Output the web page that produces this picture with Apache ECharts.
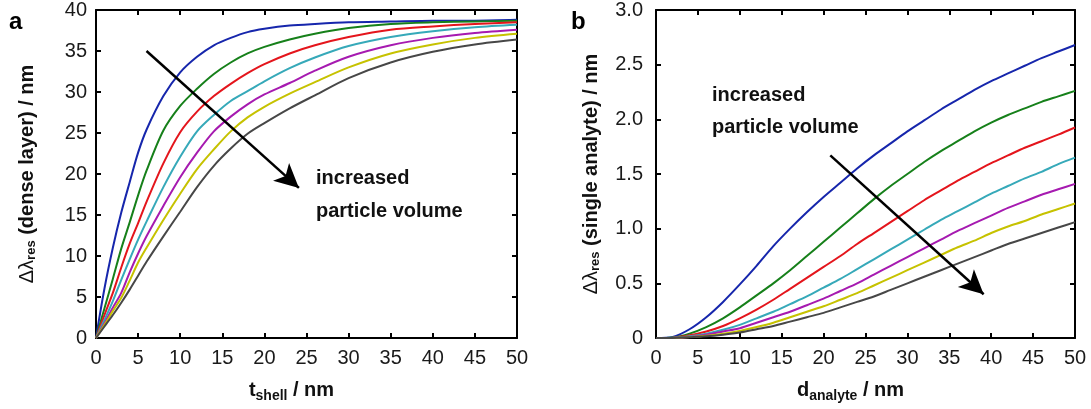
<!DOCTYPE html>
<html>
<head>
<meta charset="utf-8">
<script src="https://cdn.jsdelivr.net/npm/echarts@6/dist/echarts.min.js"></script>
<style>
html,body{margin:0;padding:0;background:#fff;}
#c{width:1091px;height:409px;}
</style>
</head>
<body>
<div id="c"></div>
<script>
// ---------- data ----------
const seriesNames = ['smallest', 'size 2', 'size 3', 'size 4', 'size 5', 'size 6', 'largest'];
const colors = ['#1626ac', '#16801a', '#e4151c', '#36a9b9', '#a61ab0', '#c6c200', '#474747'];

// panel a: t_shell (nm)
const tShell = [0, 1, 2, 3, 4, 5, 6, 8, 10, 12, 14, 16, 18, 20, 23, 26, 30, 35, 40, 45, 50];
const denseBlue    = [0, 6.0, 11.0, 15.3, 19.0, 22.6, 25.4, 29.5, 32.4, 34.3, 35.7, 36.6, 37.3, 37.7, 38.1, 38.3, 38.5, 38.6, 38.7, 38.7, 38.8];
const denseGreen   = [0, 3.6, 7.2, 10.9, 14.1, 17.4, 20.4, 25.3, 28.3, 30.4, 32.2, 33.6, 34.7, 35.5, 36.4, 37.1, 37.8, 38.3, 38.5, 38.6, 38.7];
const denseRed     = [0, 2.8, 5.5, 8.6, 11.5, 14.0, 16.6, 21.3, 25.1, 27.6, 29.5, 31.0, 32.3, 33.4, 34.7, 35.7, 36.7, 37.6, 38.0, 38.3, 38.5];
const denseCyan    = [0, 2.2, 4.5, 7.1, 9.6, 12.0, 14.2, 18.4, 22.1, 25.2, 27.2, 28.9, 30.1, 31.3, 32.9, 34.2, 35.6, 36.7, 37.4, 37.9, 38.2];
const denseMagenta = [0, 1.8, 3.7, 5.5, 8.0, 10.3, 12.4, 16.1, 19.6, 22.6, 25.2, 27.0, 28.5, 29.7, 31.1, 32.6, 34.3, 35.7, 36.6, 37.2, 37.6];
const denseYellow  = [0, 1.6, 3.3, 4.9, 7.0, 9.2, 11.0, 14.4, 17.6, 20.6, 23.0, 25.2, 26.9, 28.2, 29.8, 31.2, 33.0, 34.7, 35.8, 36.6, 37.1];
const denseGray    = [0, 1.4, 2.8, 4.3, 5.9, 7.6, 9.3, 12.4, 15.4, 18.4, 21.0, 23.1, 24.9, 26.2, 28.0, 29.6, 31.7, 33.6, 34.9, 35.8, 36.4];

// panel b: d_analyte (nm)
const dAnalyte = [0, 2, 4, 6, 8, 10, 12, 14, 16, 18, 20, 22, 24, 26, 28, 30, 32, 34, 36, 38, 40, 42, 44, 46, 48, 50];
const singleBlue    = [0, 0.01, 0.08, 0.19, 0.33, 0.49, 0.66, 0.84, 1.00, 1.15, 1.29, 1.42, 1.55, 1.67, 1.78, 1.89, 1.99, 2.09, 2.18, 2.27, 2.35, 2.42, 2.49, 2.56, 2.62, 2.68];
const singleGreen   = [0, 0.005, 0.04, 0.10, 0.18, 0.28, 0.39, 0.50, 0.62, 0.75, 0.88, 1.01, 1.14, 1.27, 1.39, 1.50, 1.61, 1.71, 1.80, 1.89, 1.97, 2.04, 2.10, 2.16, 2.21, 2.26];
const singleRed     = [0, 0.003, 0.025, 0.06, 0.11, 0.18, 0.26, 0.35, 0.45, 0.55, 0.65, 0.75, 0.86, 0.96, 1.06, 1.16, 1.26, 1.35, 1.44, 1.52, 1.60, 1.67, 1.74, 1.80, 1.86, 1.925];
const singleCyan    = [0, 0.002, 0.015, 0.04, 0.075, 0.12, 0.18, 0.24, 0.31, 0.38, 0.46, 0.54, 0.63, 0.72, 0.81, 0.90, 0.99, 1.08, 1.16, 1.24, 1.32, 1.39, 1.46, 1.52, 1.59, 1.65];
const singleMagenta = [0, 0.001, 0.01, 0.03, 0.06, 0.09, 0.14, 0.19, 0.24, 0.30, 0.36, 0.43, 0.50, 0.58, 0.66, 0.74, 0.82, 0.90, 0.98, 1.05, 1.12, 1.19, 1.25, 1.31, 1.36, 1.41];
const singleYellow  = [0, 0.001, 0.008, 0.02, 0.04, 0.065, 0.10, 0.14, 0.19, 0.24, 0.29, 0.35, 0.41, 0.48, 0.55, 0.62, 0.69, 0.76, 0.83, 0.89, 0.96, 1.02, 1.07, 1.13, 1.18, 1.23];
const singleGray    = [0, 0.001, 0.006, 0.015, 0.03, 0.05, 0.08, 0.11, 0.15, 0.19, 0.23, 0.28, 0.33, 0.38, 0.44, 0.50, 0.56, 0.62, 0.68, 0.74, 0.80, 0.86, 0.91, 0.96, 1.01, 1.06];

// ticks
const xTickInterval = 5;
const yTickIntervalA = 5;
const yTickIntervalB = 0.5;

// annotation arrows (data coordinates)
const arrowA = [[6.0, 35.0], [24.1, 18.3]];
const arrowB = [[20.8, 1.67], [39.1, 0.40]];

// ---------- chart ----------
const denseSets = [denseBlue, denseGreen, denseRed, denseCyan, denseMagenta, denseYellow, denseGray];
const singleSets = [singleBlue, singleGreen, singleRed, singleCyan, singleMagenta, singleYellow, singleGray];

const FONT = '"Liberation Sans", Arial, sans-serif';
const axisCommon = {
  axisLine: {show: true, onZero: false, lineStyle: {color: '#000', width: 2}},
  axisTick: {show: true, inside: true, length: 5, lineStyle: {color: '#000', width: 2}},
  splitLine: {show: false}
};
function xAx(gridIndex, pos, showLabel, name) {
  return Object.assign({}, axisCommon, {
    type: 'value', gridIndex, position: pos, min: 0, max: 50, interval: xTickInterval,
    axisLabel: {show: showLabel, fontFamily: FONT, fontSize: 20, color: '#1a1a1a', margin: 10},
    name: name || '', nameLocation: 'middle', nameGap: 40,
    nameTextStyle: name ? {
      fontFamily: FONT, fontSize: 19, fontWeight: 'bold', color: '#111', padding: [0, 30, 0, 0],
      rich: {
        b: {fontFamily: FONT, fontSize: 20, fontWeight: 'bold', color: '#111'},
        s: {fontFamily: FONT, fontSize: 14, fontWeight: 'bold', color: '#111', padding: [11, 0, 0, 0]}
      }
    } : undefined
  });
}
function yAx(gridIndex, pos, showLabel, max, interval, fmt, name, gap, margin) {
  return Object.assign({}, axisCommon, {
    type: 'value', gridIndex, position: pos, min: 0, max, interval,
    axisLabel: {show: showLabel, fontFamily: FONT, fontSize: 20, color: '#1a1a1a', margin: margin || 9, formatter: fmt},
    name: name || '', nameLocation: 'middle', nameGap: gap || 40, nameRotate: 90,
    nameTextStyle: name ? {
      fontFamily: FONT, fontSize: 20, color: '#111',
      rich: {
        g: {fontFamily: FONT, fontSize: 20, color: '#111'},
        s: {fontFamily: FONT, fontSize: 13, fontWeight: 'bold', color: '#111', padding: [9, 0, 0, 0]},
        b: {fontFamily: FONT, fontSize: 20, fontWeight: 'bold', color: '#111'}
      }
    } : undefined
  });
}

const series = [];
function curve(xi, yi, xs, arr, i, tag) {
  return {
    type: 'line', name: seriesNames[i] + tag, xAxisIndex: xi, yAxisIndex: yi,
    data: xs.map((x, k) => [x, arr[k]]), showSymbol: false, smooth: 0.3,
    lineStyle: {color: colors[i], width: 2}, itemStyle: {color: colors[i]}, z: 3, silent: true
  };
}
denseSets.forEach((arr, i) => series.push(curve(0, 0, tShell, arr, i, ' a')));
singleSets.forEach((arr, i) => series.push(curve(2, 2, dAnalyte, arr, i, ' b')));

function arrowSeries(xi, yi, pts) {
  return {
    type: 'line', xAxisIndex: xi, yAxisIndex: yi, data: [], silent: true, z: 5,
    markLine: {
      silent: true, symbol: ['none', 'arrow'], symbolSize: [18, 24],
      label: {show: false},
      lineStyle: {color: '#000', width: 2.5, type: 'solid'},
      data: [[{coord: pts[0]}, {coord: pts[1]}]],
      animation: false
    }
  };
}
series.push(arrowSeries(0, 0, arrowA));
series.push(arrowSeries(2, 2, arrowB));

const chart = echarts.init(document.getElementById('c'), null, {renderer: 'canvas'});
chart.setOption({
  animation: false,
  backgroundColor: '#fff',
  grid: [
    {left: 96, top: 5, width: 421, height: 333},
    {left: 656, top: 5, width: 419, height: 333}
  ],
  xAxis: [
    xAx(0, 'bottom', true, '{b|t}{s|shell}{b| / nm}'),
    xAx(0, 'top', false),
    xAx(1, 'bottom', true, '{b|d}{s|analyte}{b| / nm}'),
    xAx(1, 'top', false)
  ],
  yAxis: [
    yAx(0, 'left', true, 40, yTickIntervalA, v => String(v), '{g|Δλ}{s|res}{b| (dense layer) / nm}', 58, 9),
    yAx(0, 'right', false, 40, yTickIntervalA),
    yAx(1, 'left', true, 3, yTickIntervalB, v => (v === 0 ? '0' : v.toFixed(1)), '{g|Δλ}{s|res}{b| (single analyte) / nm}', 54, 13),
    yAx(1, 'right', false, 3, yTickIntervalB)
  ],
  series,
  graphic: [
    {type: 'text', left: 9, top: 10, style: {text: 'a', font: 'bold 24px ' + FONT, fill: '#000'}},
    {type: 'text', left: 571, top: 10, style: {text: 'b', font: 'bold 24px ' + FONT, fill: '#000'}},
    {type: 'text', left: 316, top: 168, style: {text: 'increased', font: 'bold 20px ' + FONT, fill: '#111'}},
    {type: 'text', left: 316, top: 201, style: {text: 'particle volume', font: 'bold 20px ' + FONT, fill: '#111'}},
    {type: 'text', left: 712, top: 85, style: {text: 'increased', font: 'bold 20px ' + FONT, fill: '#111'}},
    {type: 'text', left: 712, top: 117, style: {text: 'particle volume', font: 'bold 20px ' + FONT, fill: '#111'}}
  ]
});
</script>
</body>
</html>
